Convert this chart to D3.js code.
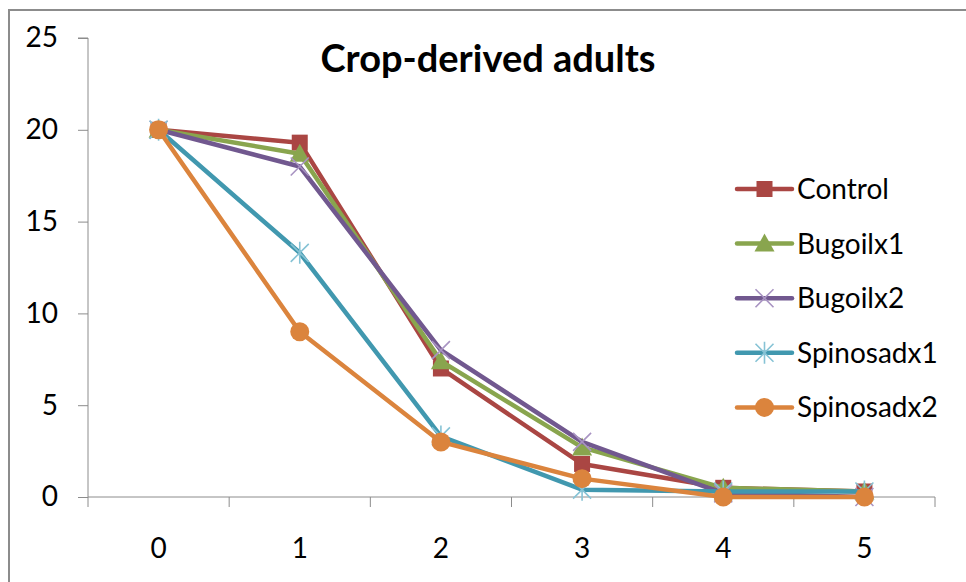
<!DOCTYPE html>
<html><head><meta charset="utf-8">
<script src="https://cdn.jsdelivr.net/npm/d3@7"></script>
<style>body{margin:0;background:#fff}svg{display:block}</style>
</head><body>
<svg id="c" width="966" height="582"></svg>
<script>
const categories = [0, 1, 2, 3, 4, 5];
const yTicks = [0, 5, 10, 15, 20, 25];
const seriesNames = ["Control", "Bugoilx1", "Bugoilx2", "Spinosadx1", "Spinosadx2"];
const control    = [20, 19.3, 7.0, 1.8, 0.5, 0.3];
const bugoilx1   = [20, 18.7, 7.4, 2.7, 0.5, 0.3];
const bugoilx2   = [20, 18.0, 8.0, 3.0, 0.2, 0.0];
const spinosadx1 = [20, 13.3, 3.3, 0.4, 0.3, 0.3];
const spinosadx2 = [20, 9.0, 3.0, 1.0, 0.0, 0.0];
const chartTitle = "Crop-derived adults";

const colors = ["#AA4643", "#89A54E", "#71588F", "#4198AF", "#DB843D"];
const markers = ["square", "triangle", "x", "star", "circle"];
const values = [control, bugoilx1, bugoilx2, spinosadx1, spinosadx2];
const series = seriesNames.map((n, i) => ({name: n, values: values[i], color: colors[i], marker: markers[i]}));

(function () {
const svg = d3.select("#c");
const font = "Lato, 'Open Sans', sans-serif";

// outer chart border
svg.append("rect").attr("x", 9).attr("y", 10).attr("width", 1000).attr("height", 1000)
  .attr("fill", "none").attr("stroke", "#8c8c8c").attr("stroke-width", 2);

const pl = 88, pr = 935, pt = 38, pb = 497;
const x = d3.scaleBand().domain(categories).range([pl, pr]).paddingInner(0).paddingOuter(0);
const y = d3.scaleLinear().domain([0, 25]).range([pb, pt]);
const cx = d => x(d) + x.bandwidth() / 2;

// y axis
const yAxis = svg.append("g").attr("transform", `translate(${pl},0)`)
  .call(d3.axisLeft(y).tickValues(yTicks).tickSize(10).tickPadding(20));
yAxis.select(".domain").attr("stroke", "#8c8c8c").attr("d", `M-10,${pt}H0V${pb}`);
yAxis.selectAll(".tick line").attr("stroke", "#8c8c8c");
yAxis.selectAll(".tick text").attr("font-family", font).attr("font-size", 28).attr("fill", "#000");

// x axis
const xAxis = svg.append("g").attr("transform", `translate(0,${pb})`)
  .call(d3.axisBottom(x).tickSize(0));
xAxis.select(".domain").attr("stroke", "#8c8c8c").attr("d", `M${pl},0H${pr}`);
xAxis.selectAll(".tick text").attr("font-family", font).attr("font-size", 28).attr("fill", "#000")
  .attr("dy", null).attr("y", 61);
const bounds = categories.map(c => x(c)).concat([x(categories[categories.length - 1]) + x.bandwidth()]);
svg.append("g").selectAll("line").data(bounds).join("line")
  .attr("x1", d => d).attr("x2", d => d).attr("y1", pb).attr("y2", pb + 10)
  .attr("stroke", "#8c8c8c");

// title
svg.append("text").attr("x", 488).attr("y", 72).attr("text-anchor", "middle")
  .attr("font-family", font).attr("font-weight", "bold").attr("font-size", 38).text(chartTitle);

function drawMarker(g, type, color, px, py) {
  if (type === "square") {
    g.append("rect").attr("x", px - 8).attr("y", py - 8).attr("width", 16).attr("height", 16).attr("fill", color);
  } else if (type === "triangle") {
    g.append("path").attr("d", `M${px},${py - 10}L${px + 10},${py + 8}L${px - 10},${py + 8}Z`).attr("fill", color);
  } else if (type === "x") {
    g.append("path").attr("d", `M${px - 9},${py - 9}L${px + 9},${py + 9}M${px - 9},${py + 9}L${px + 9},${py - 9}`)
      .attr("stroke", "#a893c2").attr("stroke-width", 1.6).attr("fill", "none");
  } else if (type === "star") {
    g.append("path").attr("d", `M${px - 9},${py - 9}L${px + 9},${py + 9}M${px - 9},${py + 9}L${px + 9},${py - 9}M${px},${py - 11}L${px},${py + 11}`)
      .attr("stroke", "#86c3d5").attr("stroke-width", 1.6).attr("fill", "none");
  } else if (type === "circle") {
    g.append("circle").attr("cx", px).attr("cy", py).attr("r", 9.5).attr("fill", color);
  }
}

const line = d3.line().x((d, i) => cx(categories[i])).y(d => y(d));
series.forEach(s => {
  const g = svg.append("g");
  g.append("path").attr("d", line(s.values)).attr("fill", "none")
    .attr("stroke", s.color).attr("stroke-width", 4.5).attr("stroke-linejoin", "round");
  s.values.forEach((v, i) => drawMarker(g, s.marker, s.color, cx(categories[i]), y(v)));
});

// legend
const leg = svg.append("g");
series.forEach((s, i) => {
  const ly = 189 + i * 54.6;
  const g = leg.append("g");
  g.append("line").attr("x1", 737).attr("x2", 792).attr("y1", ly).attr("y2", ly)
    .attr("stroke", s.color).attr("stroke-width", 4.5).attr("stroke-linecap", "round");
  drawMarker(g, s.marker, s.color, 764.5, ly);
  g.append("text").attr("x", 797).attr("y", ly + 10).attr("font-family", font)
    .attr("font-size", 28).attr("fill", "#000").text(s.name);
});
})();
</script>
</body></html>
